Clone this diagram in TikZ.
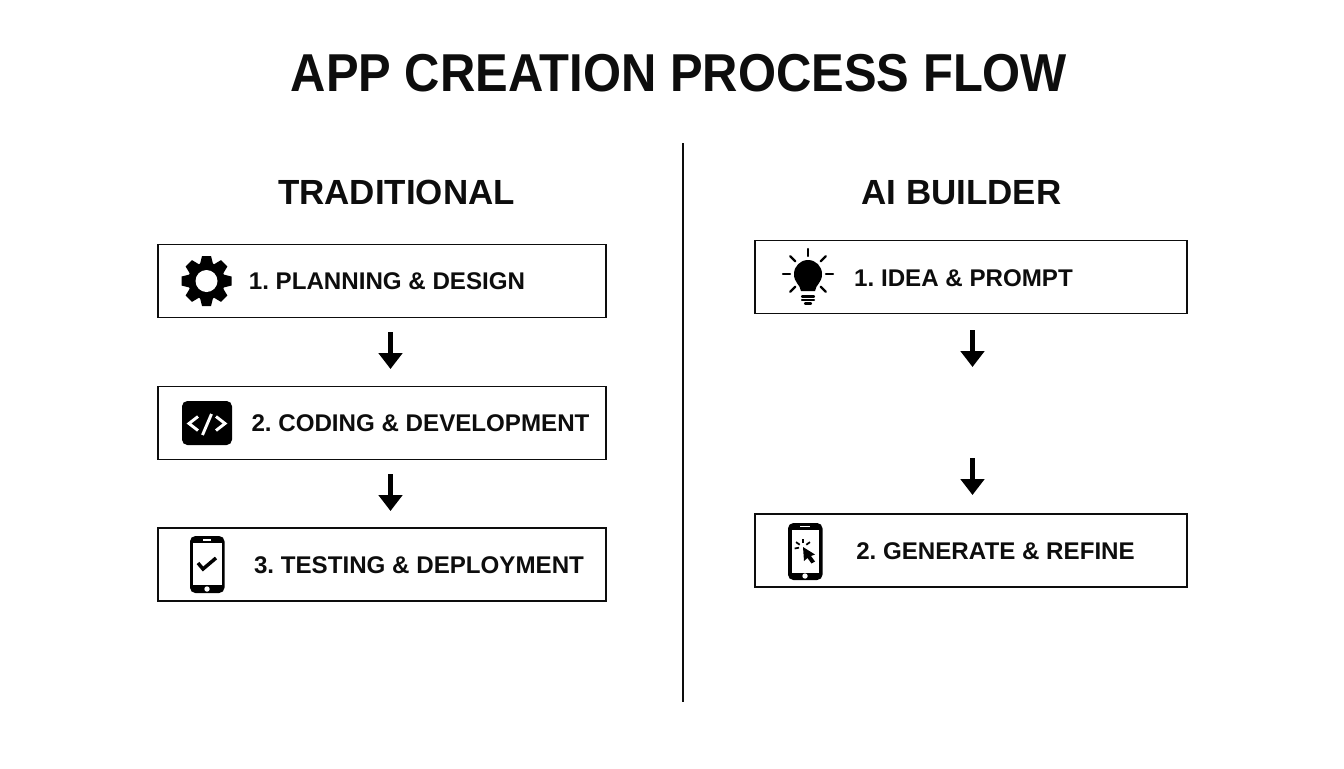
\documentclass[tikz,border=0pt]{standalone}
\usepackage{fontspec}
\usepackage{graphicx}
\setmainfont{Liberation Sans}
\frenchspacing
\definecolor{inkcol}{HTML}{0D0D0D}
\usetikzlibrary{arrows.meta}
\tikzset{
  titlelabel/.style={text=inkcol, font=\fontsize{40}{44}\selectfont\bfseries, text depth=0pt, inner sep=0pt},
  headlabel/.style={text=inkcol, font=\fontsize{26.2}{28}\selectfont\bfseries, text depth=0pt, inner sep=0pt},
  steplabel/.style={text=inkcol, font=\fontsize{18.1}{20}\selectfont\bfseries, text depth=0pt, inner sep=0pt},
  stepbox/.style={draw=inkcol, line width=1.1pt, minimum height=55pt, inner sep=0pt},
  leftbox/.style={stepbox, minimum width=336pt},
  rightbox/.style={stepbox, minimum width=324pt},
  flowarrow/.style={-{Triangle[length=12pt,width=17.5pt]}, draw=black, line width=3.9pt},
  iconline/.style={draw=black, line width=1.8pt, line cap=round},
  bulbline/.style={draw=black, line width=1.7pt, line cap=round},
  codeline/.style={draw=white, line width=2.2pt}
}
\begin{document}
\begin{tikzpicture}[x=0.75pt, y=-0.75pt]
  \useasboundingbox (0,0) rectangle (1344,768);

  \node [titlelabel] (titolo) at (679,73) {\scalebox{.917}[1]{APP CREATION PROCESS FLOW}};
  \node [headlabel] (tradizionale) at (396.5,192) {TRADITIONAL};
  \node [headlabel] (builder) at (961.5,192) {AI BUILDER};

  \coordinate (divisoreA) at (683,143);
  \coordinate (divisoreB) at (683,702);
  \draw [draw=inkcol, line width=1.3pt] (divisoreA) -- (divisoreB);

  \node [leftbox] (passo1) at (382,281) {};
  \node [leftbox] (passo2) at (382,423) {};
  \node [leftbox] (passo3) at (382,564.5) {};
  \node [rightbox] (idea1) at (971,277) {};
  \node [rightbox] (idea2) at (971,550.5) {};

  \node [steplabel] (testo1) at (387,281) {1. PLANNING \& DESIGN};
  \node [steplabel] (testo2) at (420.5,423) {2. CODING \& DEVELOPMENT};
  \node [steplabel] (testo3) at (419,565) {3. TESTING \& DEPLOYMENT};
  \node [steplabel] (testo4) at (963.5,278) {1. IDEA \& PROMPT};
  \node [steplabel] (testo5) at (995.5,551) {2. GENERATE \& REFINE};

  \coordinate (freccia1a) at (390.5,332);
  \coordinate (freccia1b) at (390.5,369);
  \coordinate (freccia2a) at (390.5,474);
  \coordinate (freccia2b) at (390.5,511);
  \coordinate (freccia3a) at (972.5,330);
  \coordinate (freccia3b) at (972.5,367);
  \coordinate (freccia4a) at (972.5,458);
  \coordinate (freccia4b) at (972.5,495);
  \draw [flowarrow] (freccia1a) -- (freccia1b);
  \draw [flowarrow] (freccia2a) -- (freccia2b);
  \draw [flowarrow] (freccia3a) -- (freccia3b);
  \draw [flowarrow] (freccia4a) -- (freccia4b);

  % gear
  \foreach \a in {0,45,...,315}
    \fill [black, shift={(206.5,281)}, rotate=\a] (-6.5,-17) -- (-4.5,-25) -- (4.5,-25) -- (6.5,-17) -- cycle;
  \fill [black] (206.5,281) circle [radius=18.5];
  \fill [white] (206.5,281) circle [radius=11];

  % code
  \fill [black, rounded corners=4pt] (182,401) rectangle (232,445);
  \draw [codeline] (198,416.5) -- (189,423.5) -- (198,430.5);
  \draw [codeline] (211.5,414) -- (202.5,435);
  \draw [codeline] (216,416.5) -- (225,423.5) -- (216,430.5);

  % phone with check
  \fill [black, rounded corners=4pt] (190,536) rectangle (224.5,593);
  \fill [white] (193,543) rectangle (221.5,585);
  \draw [white, line width=1pt] (203,540) -- (211,540);
  \fill [white] (207,589) circle [radius=2.7];
  \draw [black, line width=2.6pt] (198,563) -- (203,569) -- (216,558);

  % bulb
  \fill [black] (801,291) .. controls (800,284) and (794,283) .. (794,274) arc [start angle=180, end angle=360, radius=14] .. controls (822,283) and (816,284) .. (815,291) -- cycle;
  \draw [bulbline] (802,296.5) -- (814,296.5);
  \draw [bulbline] (802,300) -- (814,300);
  \draw [bulbline] (805,303.5) -- (811,303.5);
  \foreach \a in {90,-45,0,45,135,180,225}
    \draw [iconline, shift={(808,274)}, rotate=\a] (18,0) -- (25,0);

  % phone with cursor
  \fill [black, rounded corners=4pt] (788,523) rectangle (822.5,580);
  \fill [white] (791.5,530) rectangle (819,573);
  \draw [white, line width=1pt] (800,526.5) -- (810,526.5);
  \fill [white] (805,576) circle [radius=2.7];
  \fill [black] (803,547) -- (804,561) -- (807.5,558) -- (811.5,563.5) -- (815,561.5) -- (811,556) -- (815,554.5) -- cycle;
  \foreach \a in {90,145,35,190}
    \draw [black, line width=1.3pt, shift={(803,547)}, rotate=\a] (4,0) -- (8.5,0);
\end{tikzpicture}
\end{document}
